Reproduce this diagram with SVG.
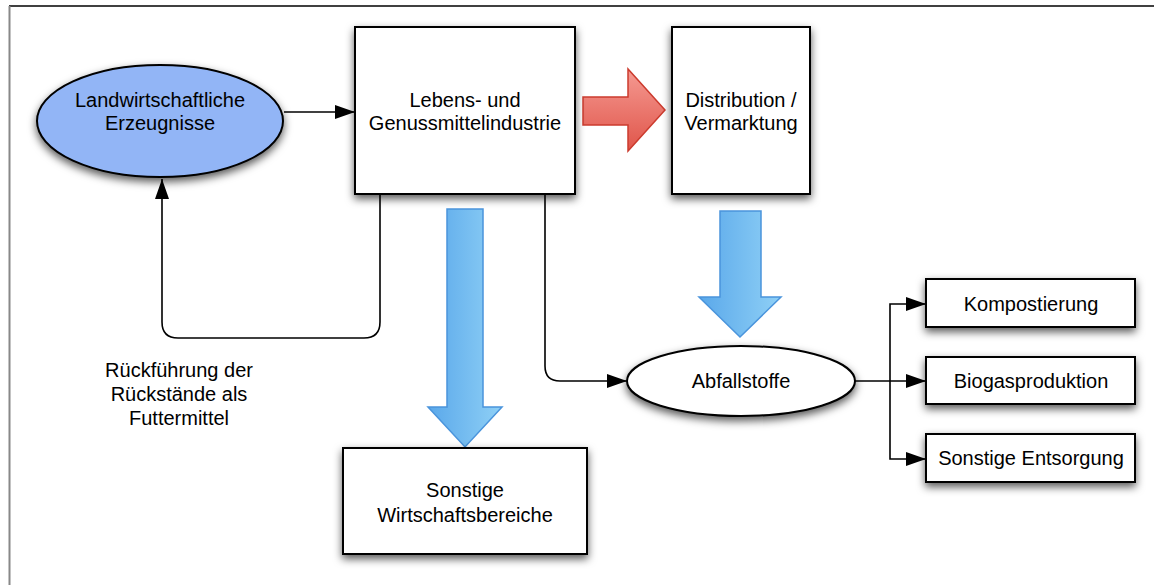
<svg xmlns="http://www.w3.org/2000/svg" width="1154" height="585" viewBox="0 0 1154 585">
<style>
.box{fill:#fff;stroke:#000;stroke-width:2;filter:url(#sh)}
.t{font-family:"Liberation Sans",Arial,sans-serif;font-size:20px;fill:#000;text-anchor:middle}
.c{fill:none;stroke:#000;stroke-width:1.6}
.blue{fill:url(#bg);stroke:#4a94dc;stroke-width:1.5}
</style>
<defs>
<filter id="sh" x="-20%" y="-20%" width="140%" height="150%">
<feDropShadow dx="0" dy="4" stdDeviation="4" flood-color="#000" flood-opacity="0.65"/>
</filter>
<marker id="ah" markerWidth="20" markerHeight="14" refX="20" refY="7" orient="auto" markerUnits="userSpaceOnUse">
<path d="M0,0 L20,7 L0,14 Z" fill="#000"/>
</marker>
<linearGradient id="bg" x1="0" y1="0" x2="1" y2="0">
<stop offset="0" stop-color="#5aa8ea"/>
<stop offset="1" stop-color="#8fd0f6"/>
</linearGradient>
<linearGradient id="rg" x1="0" y1="0" x2="0" y2="1">
<stop offset="0" stop-color="#f59a92"/>
<stop offset="1" stop-color="#e0554a"/>
</linearGradient>
</defs>
<rect width="1154" height="585" fill="#fff"/>
<line x1="9" y1="6" x2="1154" y2="6" stroke="#000" stroke-width="1.5"/>
<line x1="9.5" y1="6" x2="9.5" y2="585" stroke="#888" stroke-width="2"/>

<g id="connectors">
<path class="c" d="M284,112 L355,112" marker-end="url(#ah)"/>
<path class="c" d="M380,194 L380,322 Q380,338 364,338 L178,338 Q162,338 162,322 L162,179" marker-end="url(#ah)"/>
<path class="c" d="M545,190 L545,366 Q545,381 560,381 L627,381" marker-end="url(#ah)"/>
<path class="c" d="M855,381 L926,381" marker-end="url(#ah)"/>
<path class="c" d="M890,381 L890,304 L926,304" marker-end="url(#ah)"/>
<path class="c" d="M890,381 L890,459 L926,459" marker-end="url(#ah)"/>
<path d="M583,97 L628,97 L628,69 L665,110 L628,151 L628,125 L583,125 Z" fill="url(#rg)" stroke="#cc3b2e" stroke-width="1.5"/>
<path class="blue" d="M447,209 L483,209 L483,407 L502,407 L465,447 L428,407 L447,407 Z"/>
<path class="blue" d="M720,211 L761,211 L761,297 L781,297 L740,337 L699,297 L720,297 Z"/>
</g>

<g id="n-landwirtschaft">
<ellipse cx="160" cy="121" rx="123" ry="56" fill="#92b5f6" stroke="#000" stroke-width="2" filter="url(#sh)"/>
<text class="t" x="160" y="107">Landwirtschaftliche</text>
<text class="t" x="160" y="130">Erzeugnisse</text>
</g>

<g id="n-lebens">
<rect class="box" x="355" y="27" width="220" height="167"/>
<text class="t" x="465" y="107">Lebens- und</text>
<text class="t" x="465" y="130">Genussmittelindustrie</text>
</g>

<g id="n-distribution">
<rect class="box" x="672" y="27" width="138" height="167"/>
<text class="t" x="741" y="107">Distribution /</text>
<text class="t" x="741" y="130">Vermarktung</text>
</g>

<g id="n-sonstige-wb">
<rect class="box" x="343" y="448" width="244" height="106"/>
<text class="t" x="465" y="497">Sonstige</text>
<text class="t" x="465" y="522">Wirtschaftsbereiche</text>
</g>

<g id="n-abfall">
<ellipse cx="741" cy="381" rx="114" ry="35" fill="#fff" stroke="#000" stroke-width="2" filter="url(#sh)"/>
<text class="t" x="741" y="388">Abfallstoffe</text>
</g>

<g id="n-kompost">
<rect class="box" x="926" y="279" width="209" height="48"/>
<text class="t" x="1031" y="311">Kompostierung</text>
</g>

<g id="n-biogas">
<rect class="box" x="926" y="357" width="209" height="47"/>
<text class="t" x="1031" y="388">Biogasproduktion</text>
</g>

<g id="n-entsorgung">
<rect class="box" x="926" y="434" width="209" height="48"/>
<text class="t" x="1031" y="465">Sonstige Entsorgung</text>
</g>

<g id="label-rueckfuehrung">
<text class="t" x="179" y="377">Rückführung der</text>
<text class="t" x="179" y="401">Rückstände als</text>
<text class="t" x="179" y="425">Futtermittel</text>
</g>
</svg>
